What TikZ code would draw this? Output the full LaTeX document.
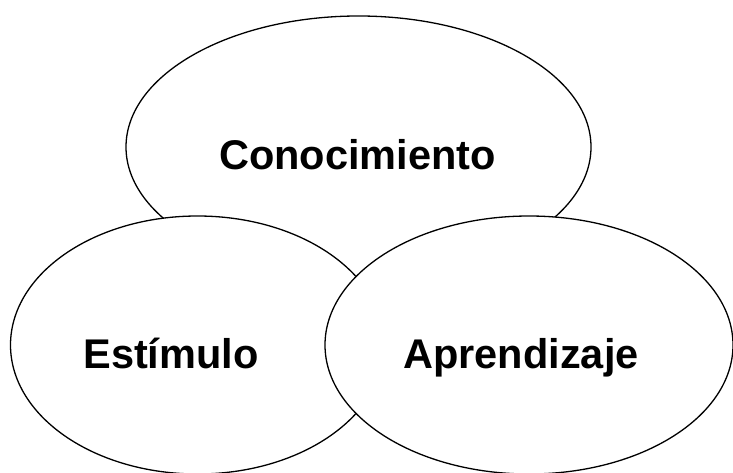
\documentclass[tikz,border=0pt]{standalone}
\usepackage{fontspec}
\setmainfont{Liberation Sans}
\usetikzlibrary{shapes.geometric}

\begin{document}
\begin{tikzpicture}[x=1pt, y=-1pt,
	bubble/.style={ellipse, draw=black, fill=white, line width=1.3pt, inner sep=0pt},
	word/.style={anchor=base, font=\fontsize{41.5}{50}\selectfont\bfseries}]
			%%%%% START %%%%%
			
			\useasboundingbox (0, 0) rectangle (733, 473);
			
			\node[bubble, minimum width=465pt, minimum height=262pt] (conoc) at (358.5, 147) {};
			\node[bubble, minimum width=374pt, minimum height=258pt] (estim) at (197.5, 345) {};
			\node[bubble, minimum width=408pt, minimum height=258pt] (aprend) at (529, 345) {};
			
			\node[word] (tconoc) at (357.5, 170) {Conocimiento};
			\node[word] (testim) at (171, 368) {Estímulo};
			\node[word] (taprend) at (521, 368) {Aprendizaje};
			
			%%%%% END %%%%%
\end{tikzpicture}
\end{document}
